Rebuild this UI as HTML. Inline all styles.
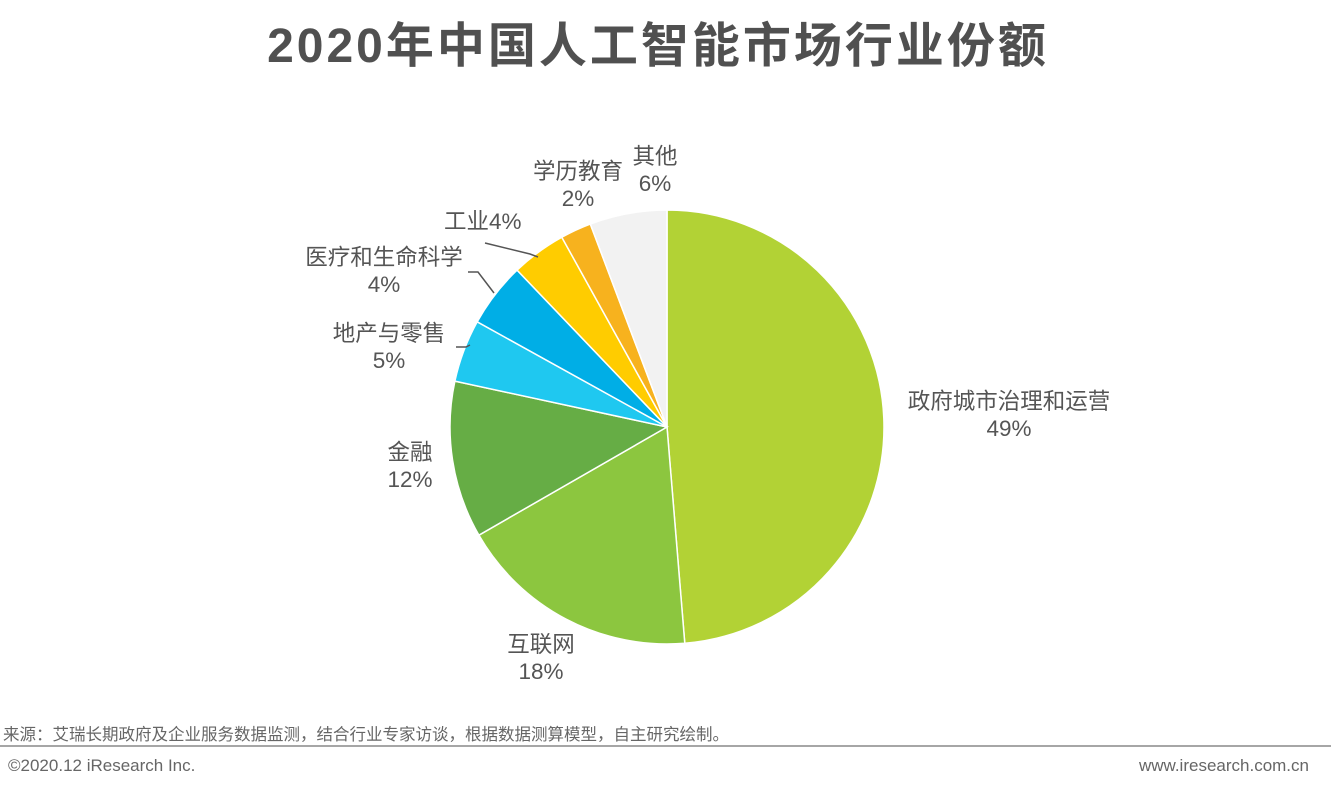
<!DOCTYPE html>
<html><head><meta charset="utf-8"><style>
body{margin:0;width:1331px;height:793px;background:#fff;font-family:"Liberation Sans","Noto Sans CJK SC",sans-serif;position:relative;overflow:hidden}
.t{position:absolute;color:#555;}
.l{position:absolute;color:#555;font-size:22.5px;line-height:27px;text-align:center;width:300px;margin-left:-150px}
</style></head><body>
<div class="t" style="left:0;width:1316px;top:6px;text-align:center;font-size:48px;font-weight:bold;color:#505050;letter-spacing:3px">2020年中国人工智能市场行业份额</div>
<svg width="1331" height="793" style="position:absolute;left:0;top:0">
<g id="pie"></g>
<polyline points="485,243 530,254 538,257" fill="none" stroke="#555" stroke-width="1.5"/>
<polyline points="468,272 478,272 494,293" fill="none" stroke="#555" stroke-width="1.5"/>
<polyline points="456,347 466,347 470,345" fill="none" stroke="#555" stroke-width="1.5"/>
<line x1="0" y1="746" x2="1331" y2="746" stroke="#888" stroke-width="1.5"/>
</svg>
<div class="l" style="left:1009px;top:388px">政府城市治理和运营<br>49%</div>
<div class="l" style="left:541px;top:631px">互联网<br>18%</div>
<div class="l" style="left:410px;top:439px">金融<br>12%</div>
<div class="l" style="left:389px;top:320px">地产与零售<br>5%</div>
<div class="l" style="left:384px;top:244px">医疗和生命科学<br>4%</div>
<div class="t" style="left:444px;top:208px;font-size:22.5px;line-height:27px">工业4%</div>
<div class="l" style="left:578px;top:158px">学历教育<br>2%</div>
<div class="l" style="left:655px;top:143px">其他<br>6%</div>
<div class="t" style="left:3px;top:725px;font-size:16.5px;line-height:20px;color:#666">来源：艾瑞长期政府及企业服务数据监测，结合行业专家访谈，根据数据测算模型，自主研究绘制。</div>
<div class="t" style="left:8px;top:756px;font-size:17px;color:#666">©2020.12 iResearch Inc.</div>
<div class="t" style="right:22px;top:756px;font-size:17px;color:#666">www.iresearch.com.cn</div>
<script>
var cx=667,cy=427,r=217;
var b=[0,175.3,240.1,282.2,299,316.3,331,339.3,360];
var c=["#B2D235","#8CC63F","#66AD45","#1FC8F0","#00AEE6","#FFCC00","#F7B21E","#F2F2F2"];
var g=document.getElementById("pie"),s="";
function p(a){a=a*Math.PI/180;return (cx+r*Math.sin(a)).toFixed(2)+","+(cy-r*Math.cos(a)).toFixed(2);}
for(var i=0;i<8;i++){var l=(b[i+1]-b[i])>180?1:0;
s+='<path d="M'+cx+','+cy+' L'+p(b[i])+' A'+r+','+r+' 0 '+l+' 1 '+p(b[i+1])+' Z" fill="'+c[i]+'" stroke="#fff" stroke-width="1.5"/>';}
g.innerHTML=s;
</script>
</body></html>
